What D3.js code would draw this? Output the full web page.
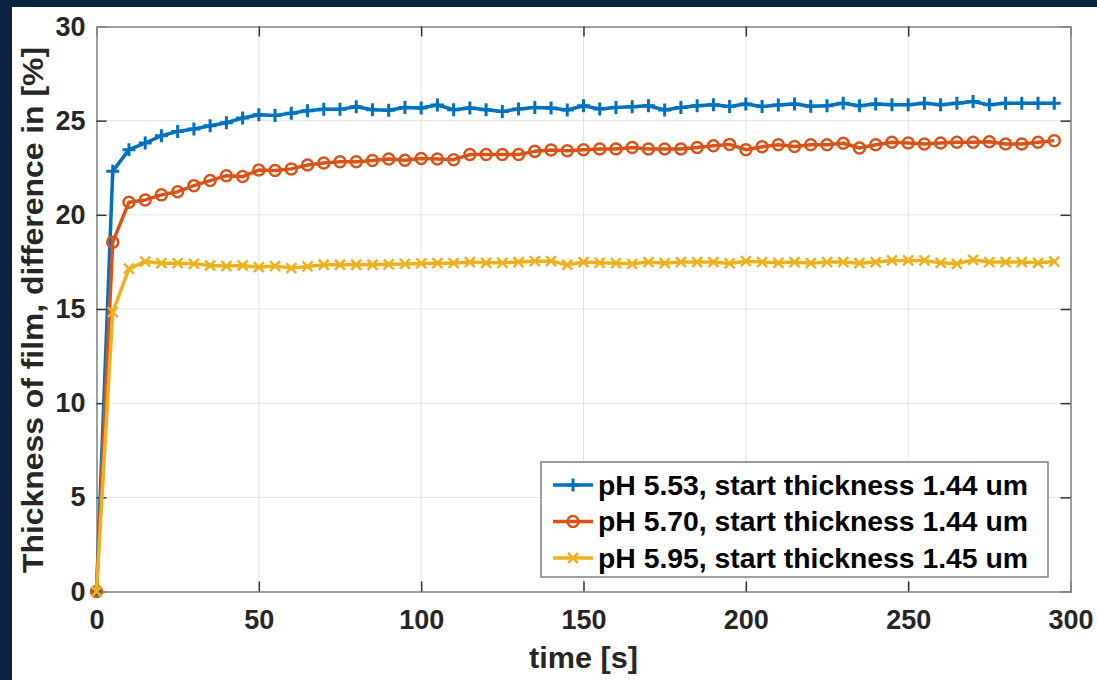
<!DOCTYPE html>
<html><head><meta charset="utf-8">
<script src="https://cdn.jsdelivr.net/npm/d3@7"></script>
<style>html,body{margin:0;padding:0;background:#0b2240;}svg{display:block;}</style>
</head><body>
<script>
const timeS = d3.range(0, 300, 5);
const seriesNames = ["pH 5.53, start thickness 1.44 um","pH 5.70, start thickness 1.44 um","pH 5.95, start thickness 1.45 um"];
const ph553 = [0,22.31,23.46,23.81,24.2,24.43,24.56,24.73,24.89,25.14,25.31,25.28,25.4,25.53,25.6,25.6,25.74,25.58,25.55,25.7,
  25.67,25.83,25.58,25.67,25.58,25.49,25.62,25.7,25.67,25.57,25.79,25.62,25.7,25.74,25.79,25.57,25.7,25.79,25.84,25.75,
  25.88,25.75,25.83,25.88,25.77,25.79,25.93,25.79,25.88,25.84,25.84,25.93,25.84,25.93,26.02,25.84,25.93,25.93,25.93,25.93];
const ph570 = [0,18.55,20.67,20.79,21.06,21.23,21.55,21.82,22.08,22.03,22.38,22.35,22.44,22.65,22.75,22.82,22.82,22.88,22.97,22.9,
  22.99,22.97,22.93,23.2,23.2,23.2,23.2,23.37,23.44,23.4,23.46,23.5,23.5,23.58,23.5,23.5,23.5,23.58,23.67,23.74,
  23.46,23.62,23.72,23.63,23.72,23.72,23.8,23.55,23.72,23.85,23.81,23.76,23.81,23.85,23.85,23.88,23.76,23.76,23.85,23.94];
const ph595 = [0,14.84,17.14,17.52,17.43,17.43,17.4,17.31,17.28,17.31,17.22,17.28,17.17,17.26,17.35,17.35,17.35,17.35,17.37,17.39,
  17.42,17.43,17.43,17.49,17.45,17.45,17.49,17.54,17.54,17.35,17.49,17.45,17.43,17.4,17.49,17.43,17.49,17.49,17.49,17.42,
  17.54,17.49,17.45,17.49,17.43,17.49,17.49,17.43,17.49,17.58,17.58,17.58,17.45,17.4,17.61,17.49,17.49,17.49,17.45,17.52];
const xTicks = [0,50,100,150,200,250,300];
const yTicks = [0,5,10,15,20,25,30];
const colors = ["#0072BD","#D95319","#EDB120"];
const markers = ["plus","circle","cross"];

const W = 1097, H = 680;
const m = {l:96.5, r:1070.5, t:26.5, b:591.5};
const svg = d3.select("body").append("svg").attr("width",W).attr("height",H);
svg.append("rect").attr("x",0).attr("y",0).attr("width",W).attr("height",H).attr("fill","#0b2240");
svg.append("rect").attr("x",12).attr("y",7).attr("width",W-12).attr("height",H-7).attr("fill","#fff");

const x = d3.scaleLinear().domain([0,300]).range([m.l,m.r]);
const y = d3.scaleLinear().domain([0,30]).range([m.b,m.t]);
const font = "'Liberation Sans', Arial, sans-serif";

// grid
const g = svg.append("g");
g.selectAll(".gx").data(xTicks.slice(1,-1)).join("line")
  .attr("x1",d=>x(d)).attr("x2",d=>x(d)).attr("y1",m.t).attr("y2",m.b)
  .attr("stroke","#e3e3e3").attr("stroke-width",1);
g.selectAll(".gy").data(yTicks.slice(1,-1)).join("line")
  .attr("y1",d=>y(d)).attr("y2",d=>y(d)).attr("x1",m.l).attr("x2",m.r)
  .attr("stroke","#e3e3e3").attr("stroke-width",1);

// axes with inward ticks
const tl = 10;
const axB = d3.axisBottom(x).tickValues(xTicks).tickSize(-tl).tickPadding(tl+8);
const axL = d3.axisLeft(y).tickValues(yTicks).tickSize(-tl).tickPadding(tl+1);
const axT = d3.axisTop(x).tickValues(xTicks).tickSize(-tl).tickFormat("");
const axR = d3.axisRight(y).tickValues(yTicks).tickSize(-tl).tickFormat("");
function style(sel){
  sel.selectAll("path").attr("stroke","#808080").attr("stroke-width",1.5);
  sel.selectAll("line").attr("stroke","#333").attr("stroke-width",1.5);
  sel.selectAll("text").attr("fill","#262626").attr("font-family",font).attr("font-weight","bold").attr("font-size","27px");
}
svg.append("g").attr("transform",`translate(0,${m.b})`).call(axB).call(style);
svg.append("g").attr("transform",`translate(${m.l},0)`).call(axL).call(style);
svg.append("g").attr("transform",`translate(0,${m.t})`).call(axT).call(style);
svg.append("g").attr("transform",`translate(${m.r},0)`).call(axR).call(style);
svg.selectAll(".tick line").filter(function(d){return (d===0||d===300||d===30);}).attr("stroke","none");
svg.selectAll(".domain").attr("stroke","#808080");

// labels
svg.append("text").attr("x",(m.l+m.r)/2).attr("y",668).attr("text-anchor","middle")
  .attr("font-family",font).attr("font-weight","bold").attr("font-size","30px").attr("fill","#262626")
  .attr("textLength",109).attr("lengthAdjust","spacingAndGlyphs").text("time [s]");
svg.append("text").attr("transform",`translate(43,310) rotate(-90)`).attr("text-anchor","middle")
  .attr("font-family",font).attr("font-weight","bold").attr("font-size","30px").attr("fill","#262626")
  .attr("textLength",526).attr("lengthAdjust","spacingAndGlyphs")
  .text("Thickness of film, difference in [%]");

// series
const all = [ph553, ph570, ph595];
const line = d3.line().x((d,i)=>x(timeS[i])).y(d=>y(d));
function drawMarker(sel, type, color){
  if(type==="plus"){
    sel.append("path").attr("d","M-6.5,0H6.5M0,-6.5V6.5").attr("stroke",color).attr("stroke-width",3).attr("fill","none");
  } else if(type==="circle"){
    sel.append("circle").attr("r",5.5).attr("stroke",color).attr("stroke-width",2.5).attr("fill","none");
  } else {
    sel.append("path").attr("d","M-5,-5L5,5M-5,5L5,-5").attr("stroke",color).attr("stroke-width",2.5).attr("fill","none");
  }
}
all.forEach((vals,si)=>{
  svg.append("path").datum(vals).attr("d",line).attr("fill","none")
    .attr("stroke",colors[si]).attr("stroke-width",3.5).attr("stroke-linejoin","round");
  vals.forEach((v,i)=>{
    const mg = svg.append("g").attr("transform",`translate(${x(timeS[i])},${y(v)})`);
    drawMarker(mg, markers[si], colors[si]);
  });
});

// legend
const lg = svg.append("g");
lg.append("rect").attr("x",541).attr("y",462).attr("width",507).attr("height",115)
  .attr("fill","#fff").attr("stroke","#808080").attr("stroke-width",1.5);
seriesNames.forEach((n,i)=>{
  const cy = 485 + i*36.5;
  lg.append("line").attr("x1",553).attr("x2",593).attr("y1",cy).attr("y2",cy).attr("stroke",colors[i]).attr("stroke-width",3.5);
  const mg = lg.append("g").attr("transform",`translate(573,${cy})`);
  drawMarker(mg, markers[i], colors[i]);
  lg.append("text").attr("x",598).attr("y",cy+9.5).attr("font-family",font).attr("font-weight","bold")
    .attr("font-size","27px").attr("fill","#000").attr("textLength",430).attr("lengthAdjust","spacingAndGlyphs").text(n);
});
</script>
</body></html>
